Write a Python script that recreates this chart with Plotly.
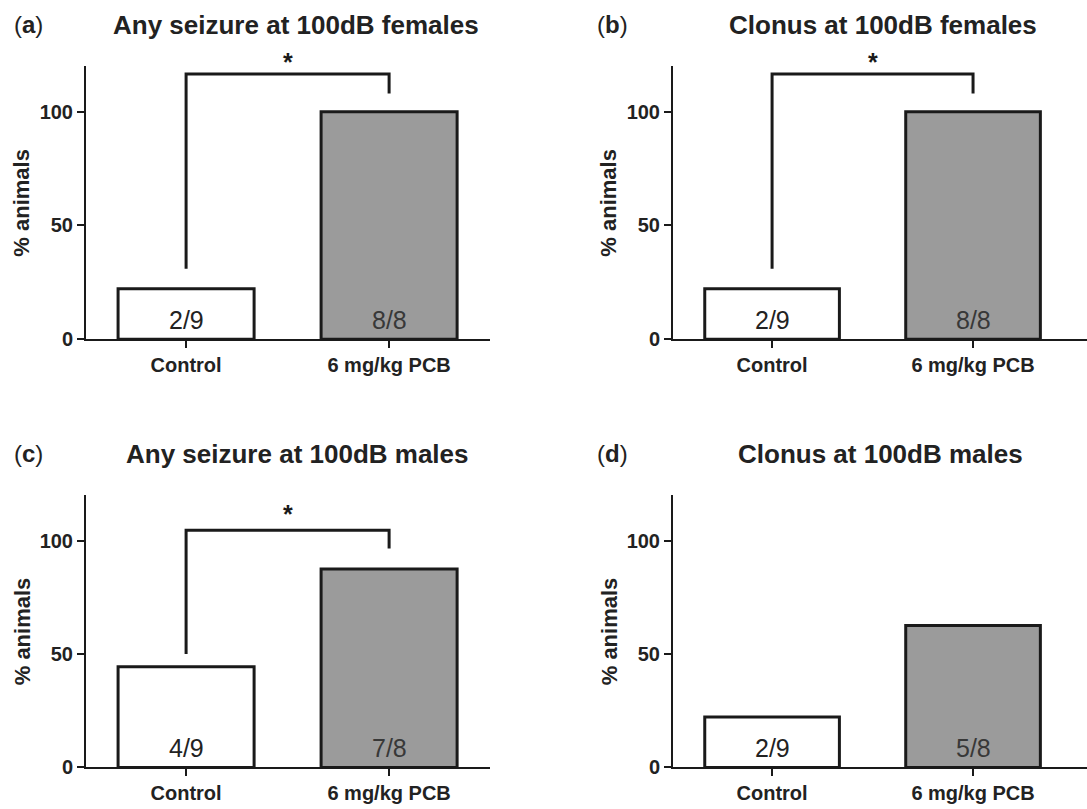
import plotly.graph_objects as go

# ---------------- data ----------------
categories = ["Control", "6 mg/kg PCB"]

pct_a = [22.2, 100.0]     # Any seizure, females
pct_b = [22.2, 100.0]     # Clonus, females
pct_c = [44.4, 87.5]      # Any seizure, males
pct_d = [22.2, 62.5]      # Clonus, males

counts_a = ["2/9", "8/8"]
counts_b = ["2/9", "8/8"]
counts_c = ["4/9", "7/8"]
counts_d = ["2/9", "5/8"]

titles = ["Any seizure at 100dB females", "Clonus at 100dB females",
          "Any seizure at 100dB males", "Clonus at 100dB males"]
panel_letters = ["a", "b", "c", "d"]

# significance brackets: [left foot, top, top, right foot] (percent)
bracket_a = [31.0, 116.5, 116.5, 108.0]
bracket_b = [31.0, 116.5, 116.5, 108.0]
bracket_c = [50.0, 104.5, 104.5, 96.5]
star_y_a = 122.0
star_y_b = 122.0
star_y_c = 111.5

y_ticks = [0, 50, 100]
y_max = 120
count_label_y = 8.7

# ---------------- style ----------------
FONT = "Liberation Sans, Arial, sans-serif"
INK = "#1a1a1a"
BAR_FILL = ["#ffffff", "#9b9b9b"]
COUNT_COLOR = ["#222222", "#383838"]

panels = [
    dict(pct=pct_a, counts=counts_a, bracket=bracket_a, star=star_y_a),
    dict(pct=pct_b, counts=counts_b, bracket=bracket_b, star=star_y_b),
    dict(pct=pct_c, counts=counts_c, bracket=bracket_c, star=star_y_c),
    dict(pct=pct_d, counts=counts_d, bracket=None, star=None),
]

W, H = 1087, 809
x_domains = [[86 / W, 490 / W], [673 / W, 1.0], [86 / W, 490 / W], [673 / W, 1.0]]
x_ranges = [[-0.493, 1.497], [-0.493, 1.567], [-0.493, 1.497], [-0.493, 1.567]]
y_domains = [[1 - 344 / H, 1 - 67 / H], [1 - 344 / H, 1 - 67 / H],
             [1 - 778 / H, 1 - 502 / H], [1 - 778 / H, 1 - 502 / H]]
title_pos = [(296, 25), (883, 25), (297, 460), (880, 460)]
letter_pos = [(28, 25), (612, 25), (28, 460), (612, 460)]
ytitle_x = [22, 609, 22, 609]

fig = go.Figure()
annotations = []
layout_axes = {}

for i, p in enumerate(panels):
    n = i + 1
    xa = "x" if n == 1 else f"x{n}"
    ya = "y" if n == 1 else f"y{n}"
    xkey = "xaxis" if n == 1 else f"xaxis{n}"
    ykey = "yaxis" if n == 1 else f"yaxis{n}"

    fig.add_trace(go.Bar(
        x=categories, y=p["pct"], width=0.67,
        marker=dict(color=BAR_FILL, line=dict(color=INK, width=3)),
        xaxis=xa, yaxis=ya, showlegend=False, hoverinfo="skip",
    ))

    # count labels inside bars
    for j, c in enumerate(categories):
        annotations.append(dict(
            x=c, y=count_label_y, xref=xa, yref=ya, text=p["counts"][j],
            showarrow=False, xanchor="center", yanchor="middle",
            font=dict(family=FONT, size=25, color=COUNT_COLOR[j]),
        ))

    if p["bracket"] is not None:
        fig.add_trace(go.Scatter(
            x=[categories[0], categories[0], categories[1], categories[1]],
            y=p["bracket"], mode="lines",
            line=dict(color=INK, width=3), xaxis=xa, yaxis=ya,
            showlegend=False, hoverinfo="skip", cliponaxis=False,
        ))
        # asterisk centred between the two groups, placed via the y-domain
        annotations.append(dict(
            x=0.5, y=p["star"] / y_max, xref=xa, yref=f"{ya} domain",
            text="<b>*</b>", showarrow=False,
            xanchor="center", yanchor="middle",
            font=dict(family=FONT, size=25, color=INK),
        ))

    layout_axes[xkey] = dict(
        domain=x_domains[i], range=x_ranges[i], anchor=ya,
        type="category", categoryorder="array", categoryarray=categories,
        showline=True, linecolor=INK, linewidth=2,
        ticks="outside", ticklen=7, tickwidth=2, tickcolor=INK,
        showgrid=False, zeroline=False, fixedrange=True,
        tickfont=dict(family=FONT, size=20, color="#222222", weight="bold"),
    )
    layout_axes[ykey] = dict(
        domain=y_domains[i], range=[0, y_max], anchor=xa,
        tickvals=y_ticks,
        showline=True, linecolor=INK, linewidth=2,
        ticks="outside", ticklen=7, tickwidth=2, tickcolor=INK,
        showgrid=False, zeroline=False, fixedrange=True,
        tickfont=dict(family=FONT, size=20, color="#222222", weight="bold"),
    )

    tx, ty = title_pos[i]
    annotations.append(dict(
        x=tx / W, y=1 - ty / H, xref="paper", yref="paper",
        text=f"<b>{titles[i]}</b>", showarrow=False,
        xanchor="center", yanchor="middle",
        font=dict(family=FONT, size=26, color="#222222"),
    ))
    lx, ly = letter_pos[i]
    annotations.append(dict(
        x=lx / W, y=1 - ly / H, xref="paper", yref="paper",
        text=f"(<b>{panel_letters[i]}</b>)", showarrow=False,
        xanchor="center", yanchor="middle",
        font=dict(family=FONT, size=24, color="#222222"),
    ))
    annotations.append(dict(
        x=ytitle_x[i] / W, y=sum(y_domains[i]) / 2, xref="paper", yref="paper",
        text="<b>% animals</b>", showarrow=False, textangle=-90,
        xanchor="center", yanchor="middle",
        font=dict(family=FONT, size=22, color="#222222"),
    ))

fig.update_layout(
    width=W, height=H,
    margin=dict(l=0, r=0, t=0, b=0),
    paper_bgcolor="white", plot_bgcolor="white",
    annotations=annotations,
    **layout_axes,
)

fig.write_html("out.html")
